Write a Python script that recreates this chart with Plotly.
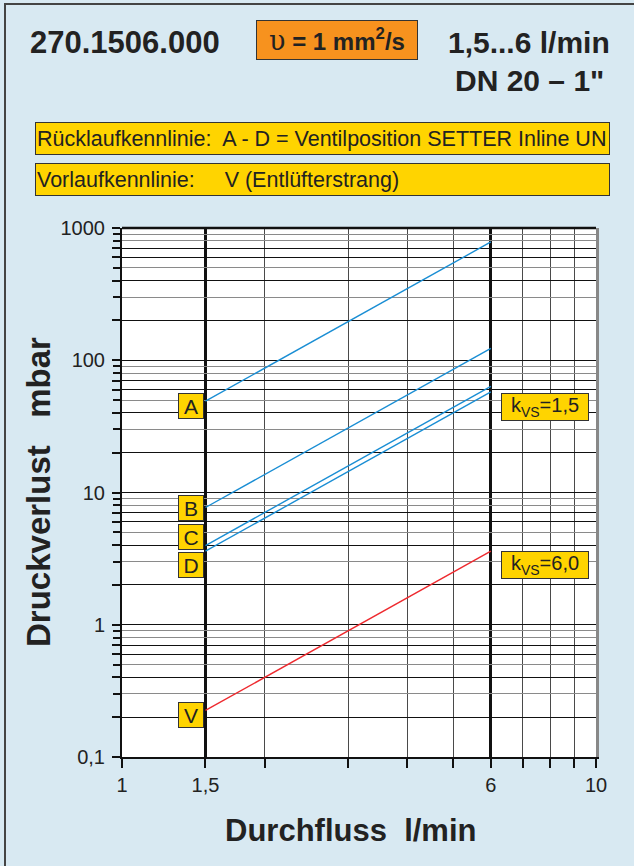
import math
import plotly.graph_objects as go

# ---- data ----
flow = [1.5, 6]                 # l/min
curve_A = [49, 784]             # mbar
curve_B = [7.7, 123]
curve_C = [3.97, 63.5]
curve_D = [3.6, 57.6]
curve_V = [0.225, 3.6]
curve_names = ["A", "B", "C", "D", "V"]
label_y = [44.9, 7.57, 4.6, 2.81, 0.206]
kvs_labels = ["k<sub>VS</sub>=1,5", "k<sub>VS</sub>=6,0"]
kvs_label_y = [44.0, 2.85]
x_tickvals = [1, 1.5, 6, 10]
x_ticktext = ["1", "1,5", "6", "10"]
x_minor = [2, 3, 4, 5, 7, 8, 9]
y_major = [0.1, 1, 10, 100, 1000]
y_major_text = ["0,1", "1", "10", "100", "1000"]
y_minor_dark = [m * 10 ** e for e in (-1, 0, 1, 2) for m in (2, 4, 6, 7)]
y_minor_gray = [m * 10 ** e for e in (-1, 0, 1, 2) for m in (3, 5, 8, 9)]

W, H = 634, 866
L, R, T, B = 122, 38, 228, 109
PW, PH = W - L - R, H - T - B

def px(x):
    return (x - L) / PW

def py(y):
    return (H - B - y) / PH

lg = math.log10

BG = "#d8e9f2"
YEL = "#ffd400"
ORG = "#f7921e"
BLUE = "#1a8ed4"
RED = "#ee2a2f"
FONT = "Liberation Sans, Arial, sans-serif"

fig = go.Figure()

# invisible helper traces so that the grid axes are drawn
fig.add_trace(go.Scatter(x=[1, 10], y=[1, 1], mode="lines", line=dict(width=0),
                         hoverinfo="skip", showlegend=False, yaxis="y"))
fig.add_trace(go.Scatter(x=[1, 10], y=[1, 1], mode="lines", line=dict(width=0),
                         hoverinfo="skip", showlegend=False, yaxis="y2"))

series = [curve_A, curve_B, curve_C, curve_D]
for name, vals in zip(curve_names[:4], series):
    fig.add_trace(go.Scatter(x=flow, y=vals, mode="lines", name=name,
                             line=dict(color=BLUE, width=1.4), showlegend=False,
                             yaxis="y3"))
fig.add_trace(go.Scatter(x=flow, y=curve_V, mode="lines", name="V",
                         line=dict(color=RED, width=1.4), showlegend=False,
                         yaxis="y3"))

annotations = []
for name, yv in zip(curve_names, label_y):
    annotations.append(dict(x=lg(1.5), y=lg(yv), xref="x", yref="y3", text=name,
                            showarrow=False, xanchor="right", yanchor="middle",
                            xshift=-1, width=22, height=22, bgcolor=YEL,
                            bordercolor="#333", borderwidth=1, borderpad=1,
                            font=dict(family=FONT, size=21, color="#222")))
for txt, yv in zip(kvs_labels, kvs_label_y):
    annotations.append(dict(x=lg(6), y=lg(yv), xref="x", yref="y3", text=txt,
                            showarrow=False, xanchor="left", yanchor="middle",
                            xshift=10, width=84, height=24, bgcolor=YEL,
                            bordercolor="#333", borderwidth=1, borderpad=1,
                            font=dict(family=FONT, size=20, color="#222")))

annotations += [
    dict(x=px(28), y=py(42), xref="paper", yref="paper", text="<b>270.1506.000</b>",
         showarrow=False, xanchor="left", yanchor="middle",
         font=dict(family=FONT, size=31, color="#222")),
    dict(x=px(256), y=py(20), xref="paper", yref="paper",
         text="<span style='font-family:DejaVu Serif;font-size:27px'>υ</span> <b>= 1 mm<sup>2</sup>/s</b>",
         showarrow=False,
         xanchor="left", yanchor="top", width=158, height=36, bgcolor=ORG,
         bordercolor="#333", borderwidth=1, borderpad=1,
         font=dict(family=FONT, size=24, color="#222")),
    dict(x=px(612), y=py(42), xref="paper", yref="paper", text="<b>1,5...6 l/min</b>",
         showarrow=False, xanchor="right", yanchor="middle",
         font=dict(family=FONT, size=30, color="#222")),
    dict(x=px(606), y=py(80), xref="paper", yref="paper", text="<b>DN 20 – 1\"</b>",
         showarrow=False, xanchor="right", yanchor="middle",
         font=dict(family=FONT, size=30, color="#222")),
    dict(x=px(35), y=py(122), xref="paper", yref="paper",
         text="Rücklaufkennlinie:  A - D = Ventilposition SETTER Inline UN",
         showarrow=False, xanchor="left", yanchor="top", align="left",
         width=571, height=29, bgcolor=YEL, bordercolor="#333", borderwidth=1,
         borderpad=1, font=dict(family=FONT, size=21.5, color="#222")),
    dict(x=px(35), y=py(163), xref="paper", yref="paper",
         text="Vorlaufkennlinie:     V (Entlüfterstrang)",
         showarrow=False, xanchor="left", yanchor="top", align="left",
         width=571, height=29, bgcolor=YEL, bordercolor="#333", borderwidth=1,
         borderpad=1, font=dict(family=FONT, size=21.5, color="#222")),
    dict(x=px(38), y=py(492), xref="paper", yref="paper",
         text="<b>Druckverlust   mbar</b>", textangle=-90, showarrow=False,
         xanchor="center", yanchor="middle",
         font=dict(family=FONT, size=33, color="#222")),
    dict(x=px(350), y=py(830), xref="paper", yref="paper",
         text="<b>Durchfluss  l/min</b>", showarrow=False,
         xanchor="center", yanchor="middle",
         font=dict(family=FONT, size=31, color="#222")),
]

shapes = [
    dict(type="rect", xref="paper", yref="paper", x0=px(5), y0=py(4), x1=px(660),
         y1=py(900), line=dict(color="#444", width=2), fillcolor="rgba(0,0,0,0)",
         layer="below"),
    dict(type="line", xref="x domain", yref="y domain", x0=0, x1=1, y0=1, y1=1,
         line=dict(color="#111", width=2.5)),
]

y_all = y_major + y_minor_dark
y_all_text = y_major_text + [" "] * len(y_minor_dark)

fig.update_layout(
    width=W, height=H, margin=dict(l=L, r=R, t=T, b=B, pad=0),
    paper_bgcolor=BG, plot_bgcolor="white", showlegend=False,
    annotations=annotations, shapes=shapes,
    xaxis=dict(type="log", range=[0, 1], tickvals=x_tickvals, ticktext=x_ticktext,
               ticks="outside", ticklen=9, tickwidth=1.5, tickcolor="#111",
               showgrid=True, gridcolor="#111", gridwidth=2.5,
               showline=True, linecolor="#111", linewidth=2,
               tickfont=dict(family=FONT, size=20, color="#222"),
               minor=dict(tickvals=x_minor, ticks="outside", ticklen=9,
                          tickwidth=1.5, tickcolor="#111", showgrid=True,
                          gridcolor="#4a4a4a", gridwidth=1.2),
               zeroline=False),
    yaxis=dict(type="log", range=[-1, 3], tickvals=y_all, ticktext=y_all_text,
               ticks="outside", ticklen=8, tickwidth=1.5, tickcolor="#111",
               showgrid=True, gridcolor="#111", gridwidth=1.2,
               showline=True, linecolor="#111", linewidth=2,
               ticklabelstandoff=3,
               tickfont=dict(family=FONT, size=20, color="#222"),
               zeroline=False),
    yaxis2=dict(type="log", range=[-1, 3], overlaying="y", side="left",
                tickvals=y_minor_gray, showticklabels=False,
                ticks="outside", ticklen=8, tickwidth=1.5, tickcolor="#111",
                showgrid=True, gridcolor="#8a8a8a", gridwidth=1.2,
                showline=False, zeroline=False),
    yaxis3=dict(type="log", range=[-1, 3], overlaying="y", side="right",
                tickvals=[], showgrid=False, showticklabels=False, ticks="",
                showline=True, linecolor="#888", linewidth=2.5, zeroline=False),
)

fig.write_html("out.html", config={"displayModeBar": False},
               post_script="document.body.style.margin='0px';")
